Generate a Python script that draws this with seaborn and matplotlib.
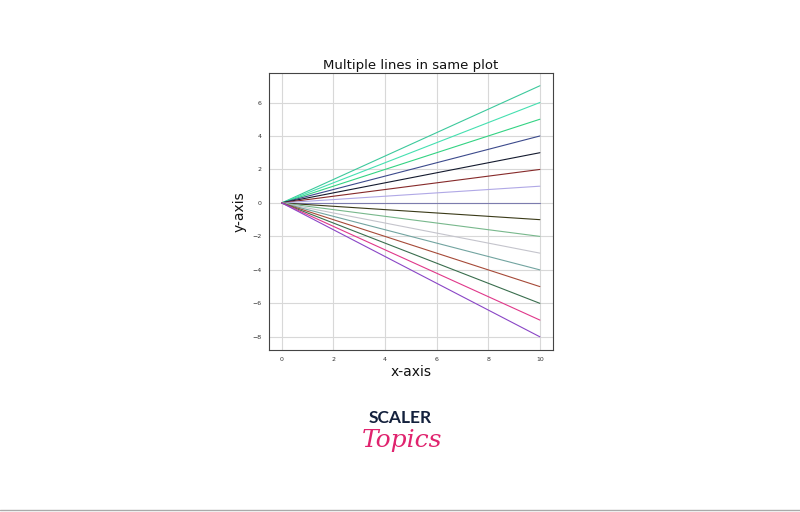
import numpy as np
import pandas as pd
import matplotlib.pyplot as plt
import seaborn as sns

# end values at x=10 for each line, top to bottom
ends = [7, 6, 5, 4, 3, 2, 1, 0, -1, -2, -3, -4, -5, -6, -7, -8]
line_colors = ['#3cc99c', '#45e0b0', '#33d383', '#3c4a8c', '#141a2e', '#862a2a',
               '#b0a8e6', '#7c7cae', '#3a3a18', '#78b88c', '#c4c4cc', '#72a4a0',
               '#a64a38', '#3a6e4e', '#e0388a', '#8a46c6']
x_vals = [0, 10]

rows = []
for i, e in enumerate(ends):
    rows.append({'x': x_vals[0], 'y': 0, 'line': i})
    rows.append({'x': x_vals[1], 'y': e, 'line': i})
df = pd.DataFrame(rows)

sns.set_style('whitegrid', {'axes.edgecolor': '#444444', 'grid.color': '#d8d8d8'})
plt.rcParams['font.family'] = ['DejaVu Sans']

fig = plt.figure(figsize=(8, 5.12), dpi=100)
ax = fig.add_axes([0.336, 0.316, 0.355, 0.541])

sns.lineplot(data=df, x='x', y='y', hue='line', palette=line_colors,
             linewidth=0.8, legend=False, ax=ax)

ax.set_xlim(-0.5, 10.5)
ax.set_ylim(-8.8, 7.75)
ax.set_xticks(range(0, 11, 2))
ax.set_yticks(range(-8, 7, 2))
ax.tick_params(labelsize=4.5, length=2, pad=3, colors='#333333')
ax.set_title('Multiple lines in same plot', fontsize=9.5, pad=3, color='#111111')
ax.set_xlabel('x-axis', fontsize=10, labelpad=2, color='#111111')
ax.set_ylabel('y-axis', fontsize=10, labelpad=4, color='#111111')

fig.text(0.5, 0.183, 'SCALER', ha='center', va='center', fontsize=12.5,
         fontweight='bold', color='#14213d', family='Lato')
fig.text(0.502, 0.14, 'Topics', ha='center', va='center', fontsize=18,
         style='italic', color='#e0236e', family='DejaVu Serif')
fig.add_artist(plt.Line2D([0, 1], [0.004, 0.004], color='#aaaaaa', linewidth=1))

fig.savefig('out.png', dpi=100)
